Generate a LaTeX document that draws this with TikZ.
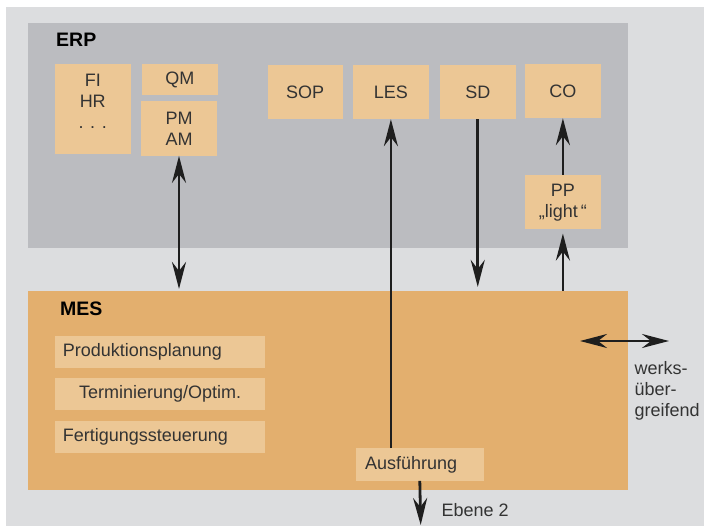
\documentclass[tikz,border=0pt]{standalone}
\usepackage{fontspec}
\setmainfont{Liberation Sans}
\usetikzlibrary{arrows.meta}
\definecolor{hintergrund}{HTML}{DCDDDF}
\definecolor{erpgrau}{HTML}{BBBCC0}
\definecolor{mesorange}{HTML}{E3AF6E}
\definecolor{modulfarbe}{HTML}{ECC795}
\definecolor{schrift}{HTML}{333333}
\definecolor{pfeilfarbe}{HTML}{1E1E1E}
\begin{document}
\begin{tikzpicture}[x=1pt, y=-1pt,
    >={Stealth[length=27pt, width=14pt, inset=9pt]},
    schicht/.style={inner sep=0pt},
    titel/.style={text=black, font=\fontsize{19.5}{22}\selectfont\bfseries, inner sep=0pt},
    modul/.style={fill=modulfarbe, inner sep=0pt, text=schrift, align=center,
        font=\fontsize{18}{21}\selectfont},
    zeile/.style={fill=modulfarbe, inner ysep=0pt, inner xsep=8pt, text width=194.6pt,
        minimum height=32pt, text=schrift, font=\fontsize{18}{21}\selectfont},
    notiz/.style={text=schrift, inner sep=0pt, align=left, font=\fontsize{18}{21}\selectfont},
    pfeil/.style={draw=pfeilfarbe, line width=2.8pt}]
    \useasboundingbox (0, 0) rectangle (704, 526);
    \fill[white] (0, 0) rectangle (704, 526);
    \fill[hintergrund] (6, 7) rectangle (704, 526);

    \node[schicht, fill=erpgrau, minimum width=599.9pt, minimum height=225pt] (erp) at (327.75, 135.8) {};
    \node[schicht, fill=mesorange, minimum width=599.9pt, minimum height=198.7pt] (mes) at (327.75, 390.5) {};
    \node[titel, anchor=west] (erptitel) at (56, 40) {ERP};
    \node[titel, anchor=west] (mestitel) at (60, 308.5) {MES};

    \node[modul, minimum width=75.9pt, minimum height=90pt] (fihr) at (92.75, 109) {};
    \node[modul, fill=none, anchor=north] (fihrtext) at (92.75, 73.5) {FI\\HR\\. . .};
    \node[modul, minimum width=75.9pt, minimum height=31pt] (qm) at (179.85, 79.5) {QM};
    \node[modul, minimum width=75.9pt, minimum height=54.4pt] (pmam) at (179, 128.5) {PM\\AM};
    \node[modul, minimum width=75pt, minimum height=54pt] (sop) at (305.1, 92) {SOP};
    \node[modul, minimum width=75.8pt, minimum height=54pt] (les) at (390.9, 92) {LES};
    \node[modul, minimum width=75.5pt, minimum height=54pt] (sd) at (477.75, 92) {SD};
    \node[modul, minimum width=75.8pt, minimum height=54pt] (co) at (562.9, 91) {CO};
    \node[modul, minimum width=75.8pt, minimum height=54.3pt] (pp) at (562.9, 202.2) {PP\\„light\,“};

    \node[zeile, align=left] (prod) at (160.1, 352.3) {Produktionsplanung};
    \node[zeile, align=center] (term) at (160.1, 394) {Terminierung/Optim.};
    \node[zeile, align=left] (fert) at (160.1, 436.7) {Fertigungssteuerung};
    \node[zeile, align=left, inner xsep=9pt, text width=109.6pt, minimum height=32.4pt] (ausf) at (419.8, 464.5) {Ausführung};

    \node[notiz, anchor=west] (werks) at (634.5, 391) {werks-\\über-\\greifend};
    \node[notiz, anchor=west] (ebene) at (441.4, 510.5) {Ebene 2};
    \coordinate (links) at (580, 341);
    \coordinate (rechts) at (669, 341);
    \coordinate (unten) at (420.7, 525);

    \draw[pfeil, <->, shorten >=2pt] (pmam.south) to (pmam.south |- mes.north);
    \draw[pfeil, ->] (les.south |- ausf.north) to (les.south);
    \draw[pfeil, ->, shorten >=4pt] (sd.south) to (sd.south |- mes.north);
    \draw[pfeil, ->, shorten >=4pt] (pp.south |- mes.north) to (pp.south);
    \draw[pfeil, ->] (pp.north) to (co.south);
    \draw[pfeil, <->] (links) to (rechts);
    \draw[pfeil, ->] (ausf.south) to (unten);
\end{tikzpicture}
\end{document}
